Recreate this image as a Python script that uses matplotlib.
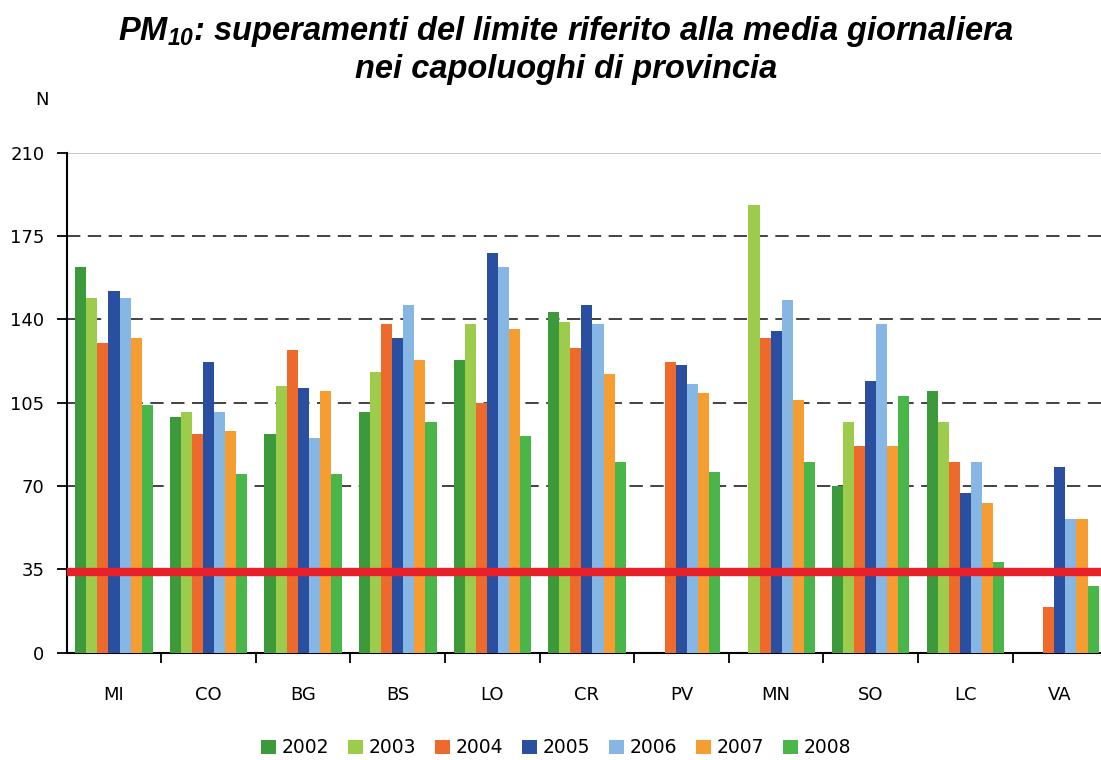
import numpy as np
import matplotlib
matplotlib.use("Agg")
import matplotlib.pyplot as plt
from matplotlib.ticker import FixedLocator

plt.rcParams['font.family'] = ['DejaVu Sans']
plt.rcParams['mathtext.fontset'] = 'custom'
plt.rcParams['mathtext.bfit'] = 'Liberation Sans:bold:italic'
plt.rcParams['mathtext.rm'] = 'Liberation Sans:bold:italic'

# capoluoghi di provincia
citta = ['MI', 'CO', 'BG', 'BS', 'LO', 'CR', 'PV', 'MN', 'SO', 'LC', 'VA']
anni = ['2002', '2003', '2004', '2005', '2006', '2007', '2008']

# numero di superamenti (0 = dato assente)
v2002 = [162, 99, 92, 101, 123, 143, 0, 0, 70, 110, 0]
v2003 = [149, 101, 112, 118, 138, 139, 0, 188, 97, 97, 0]
v2004 = [130, 92, 127, 138, 105, 128, 122, 132, 87, 80, 19]
v2005 = [152, 122, 111, 132, 168, 146, 121, 135, 114, 67, 78]
v2006 = [149, 101, 90, 146, 162, 138, 113, 148, 138, 80, 56]
v2007 = [132, 93, 110, 123, 136, 117, 109, 106, 87, 63, 56]
v2008 = [104, 75, 75, 97, 91, 80, 76, 80, 108, 38, 28]
serie = [v2002, v2003, v2004, v2005, v2006, v2007, v2008]

limite = 34
yticks = [0, 35, 70, 105, 140, 175, 210]

colori = ['#3d9a3b', '#9dcb4c', '#ee6a2c', '#2b4fa0', '#86b6e4', '#f59d31', '#49b649']

fig = plt.figure(figsize=(11.01, 7.6), dpi=100)
ax = fig.add_axes([0.0606, 0.1412, 0.945, 0.658])

x = np.arange(len(citta))
w = 0.117
for i in range(len(anni)):
    ax.bar(x + (i - 3) * w, serie[i], width=w, color=colori[i], label=anni[i], zorder=3)

# griglia
for yv in [70, 105, 140, 175]:
    ax.axhline(yv, color='#222222', lw=1.2, linestyle=(0, (8, 4.5)), zorder=1)
ax.axhline(210, color='#bbbbbb', lw=1.2, zorder=1)
ax.axhline(limite, color='#e8202a', lw=6, zorder=4)

ax.set_xlim(-0.5, len(citta) - 0.5)
ax.set_ylim(0, 210)
ax.set_yticks(yticks)
ax.set_xticks(x)
ax.set_xticklabels(citta)
ax.xaxis.set_minor_locator(FixedLocator(np.arange(0.5, len(citta) - 0.5, 1)))
ax.tick_params(axis='x', which='major', length=0, pad=24, labelsize=13)
ax.tick_params(axis='x', which='minor', length=7, width=1.3, direction='out')
ax.tick_params(axis='y', length=7, width=1.3, direction='out', pad=9, labelsize=13)

for s in ['top', 'right']:
    ax.spines[s].set_visible(False)
ax.spines['left'].set_linewidth(1.5)
ax.spines['bottom'].set_linewidth(1.5)

fig.text(0.032, 0.868, 'N', fontsize=13, ha='left', va='center')

fig.text(0.514, 0.958,
         r'$\mathbfit{PM_{10}}$: superamenti del limite riferito alla media giornaliera',
         family='Liberation Sans', fontweight='bold', style='italic',
         fontsize=23.5, ha='center', va='center')
fig.text(0.514, 0.908, 'nei capoluoghi di provincia',
         family='Liberation Sans', fontweight='bold', style='italic',
         fontsize=23.5, ha='center', va='center')

fig.legend(loc='center', bbox_to_anchor=(0.505, 0.016), ncol=7, frameon=False,
           fontsize=13.5, handlelength=0.8, handleheight=0.8, handletextpad=0.3,
           columnspacing=1.0)

fig.savefig('out.png', dpi=100)
